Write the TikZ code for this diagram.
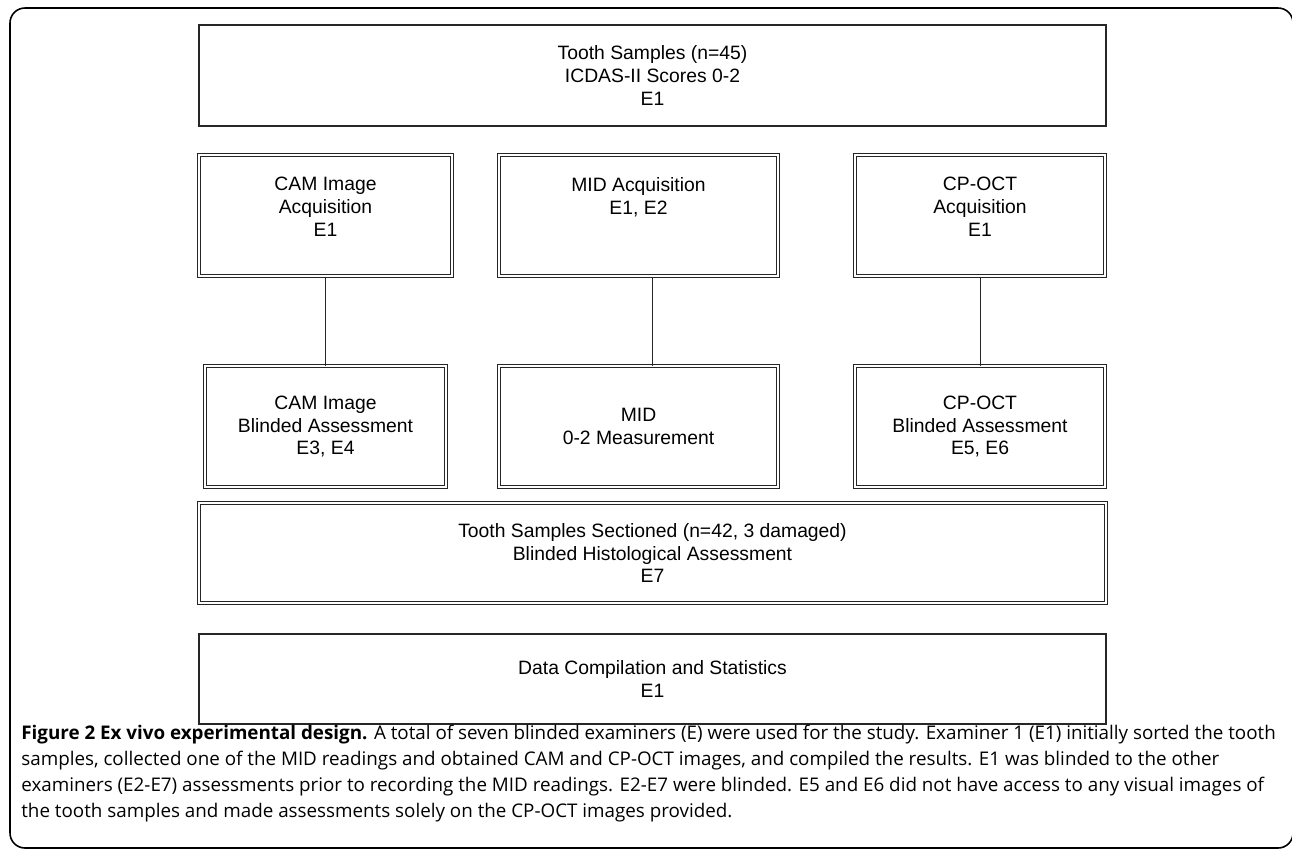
\documentclass[tikz,border=0pt]{standalone}
\usepackage{fontspec}
\setmainfont{Liberation Sans}
\newfontfamily\capfont{Open Sans}
\usetikzlibrary{positioning}

\tikzset{line/.style = {draw, line width=0.5pt, black!85}}

\begin{document}
\begin{tikzpicture}[node distance=1.78cm, auto,
    boxtext/.style={align=center, inner sep=0pt, font=\fontsize{11}{13}\selectfont},
    plainbox/.style={rectangle, draw, line width=0.8pt, black!85, text=black, boxtext, minimum width=18.14cm},
    dblbox/.style={rectangle, draw, double, double distance=0.9pt, line width=0.6pt, black!85, text=black, boxtext, minimum height=2.42cm}]
    \useasboundingbox (0,0) rectangle (25.84,-17);
    % outer frame
    \draw[line width=0.9pt, rounded corners=0.3cm] (0.2,-0.16) rectangle (25.86,-16.96);

    \node[plainbox, minimum height=2.02cm] (samples) at (13.05,-1.51) {Tooth Samples (n=45)\\ICDAS-II Scores 0-2\\E1};

    % acquisition row, text sits near the top
    \node[dblbox, minimum width=5.06cm, label={[boxtext, anchor=north, yshift=-0.45cm]north:{CAM Image\\Acquisition\\E1}}] (camacq) at (6.51,-4.31) {};
    \node[dblbox, minimum width=5.58cm, label={[boxtext, anchor=north, yshift=-0.45cm]north:{MID Acquisition\\E1, E2}}] (midacq) at (12.77,-4.31) {};
    \node[dblbox, minimum width=5.0cm, label={[boxtext, anchor=north, yshift=-0.45cm]north:{CP-OCT\\Acquisition\\E1}}] (cpacq) at (19.6,-4.31) {};

    % assessment row
    \node[dblbox, minimum width=4.82cm, below=of camacq] (camblind) {CAM Image\\Blinded Assessment\\E3, E4};
    \node[dblbox, minimum width=5.58cm, below=of midacq] (midmeas) {MID\\0-2 Measurement};
    \node[dblbox, minimum width=5.0cm, below=of cpacq] (cpblind) {CP-OCT\\Blinded Assessment\\E5, E6};

    \node[dblbox, minimum width=18.14cm, minimum height=2.0cm] (sectioned) at (13.05,-11.06) {Tooth Samples Sectioned (n=42, 3 damaged)\\Blinded Histological Assessment\\E7};
    \node[plainbox, minimum height=1.8cm] (stats) at (13.05,-13.58) {Data Compilation and Statistics\\E1};

    \path [line] (camacq) -- (camblind);
    \path [line] ([xshift=0.27cm]midacq.south) -- ([xshift=0.27cm]midacq.south |- midmeas.north);
    \path [line] (cpacq) -- (cpblind);

    \node[anchor=north west, align=left, inner sep=0pt, font=\capfont\fontsize{10.7}{14.8}\selectfont] (caption) at (0.42,-14.5)
        {\textbf{Figure 2 Ex vivo experimental design.} A total of seven blinded examiners (E) were used for the study. Examiner 1 (E1) initially sorted the tooth\\
         samples, collected one of the MID readings and obtained CAM and CP-OCT images, and compiled the results. E1 was blinded to the other\\
         examiners (E2-E7) assessments prior to recording the MID readings. E2-E7 were blinded. E5 and E6 did not have access to any visual images of\\
         the tooth samples and made assessments solely on the CP-OCT images provided.};
\end{tikzpicture}
\end{document}
